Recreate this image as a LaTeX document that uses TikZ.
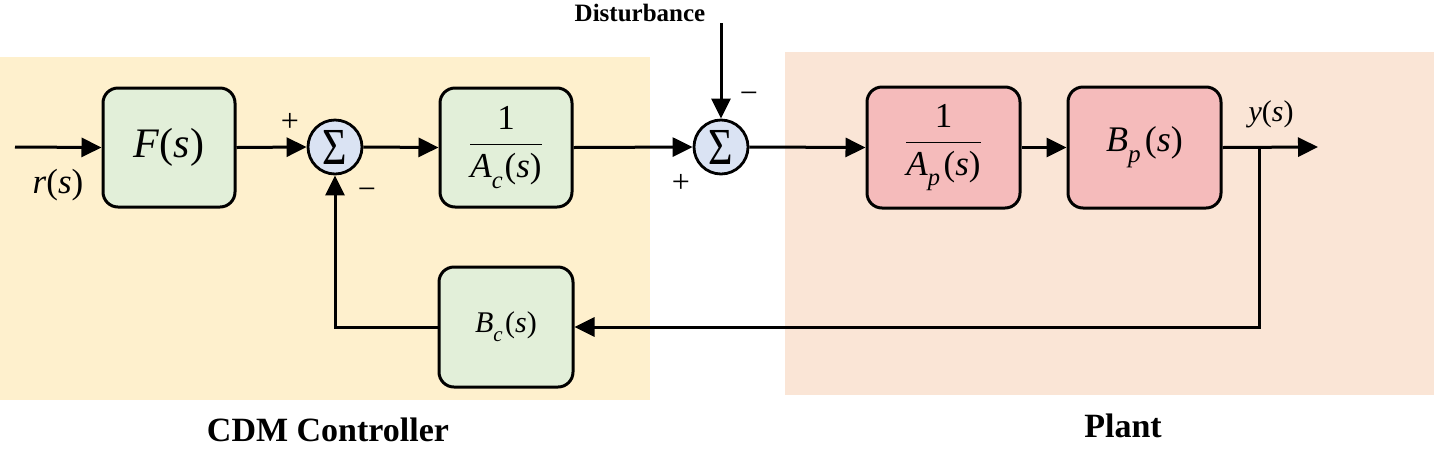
\documentclass[tikz,border=0pt]{standalone}
\usepackage{fontspec}
\usepackage{graphicx}
\setmainfont{Liberation Serif}
\usetikzlibrary{arrows.meta}
\definecolor{ctrlbg}{HTML}{FEF0CD}
\definecolor{plantbg}{HTML}{FAE5D6}
\definecolor{gbox}{HTML}{E2EFD9}
\definecolor{rbox}{HTML}{F5BBBB}
\definecolor{sumc}{HTML}{DAE3F3}
% text set at 10pt and scaled to the wanted size (#1 in pt)
\newcommand{\T}[2]{\scalebox{\fpeval{#1/10}}{\fontsize{10}{12}\selectfont #2}}
\newcommand{\sub}[1]{\raisebox{-0.3em}{\fontsize{7}{8}\selectfont\textit{#1}}}
\newcommand{\frc}[2]{$\displaystyle\frac{\mbox{#1}}{\mbox{#2}}$}
\begin{document}
\begin{tikzpicture}[x=1pt,y=-1pt,
  blk/.style={draw,line width=3pt,rounded corners=15pt,inner sep=0pt},
  gblk/.style={blk,fill=gbox},
  rblk/.style={blk,fill=rbox},
  sumnode/.style={draw,circle,line width=2.8pt,fill=sumc,minimum size=54pt,inner sep=0pt},
  wire/.style={line width=3pt},
  arr/.style={wire,-{Triangle[length=20pt,width=19pt]}},
  lbl/.style={inner sep=0pt}]
\useasboundingbox (0,0) rectangle (1434,451);
\fill[ctrlbg] (0,57) rectangle (650,400);
\fill[plantbg] (785,52) rectangle (1434,395);
% blocks
\node[gblk,minimum width=132pt,minimum height=119pt] (F) at (169,147.5)
  {\T{42}{\textit{F}(\textit{s})}};
\node[sumnode] (S1) at (335,147) {\scalebox{4.2}[5.2]{\fontsize{10}{12}\selectfont Σ}};
\node[gblk,minimum width=132pt,minimum height=119pt] (Ac) at (506,147.5)
  {\T{35}{\frc{1}{\textit{A}\sub{c}\kern0.05em(\textit{s})}}};
\node[sumnode] (S2) at (721,147) {\scalebox{4.2}[5.2]{\fontsize{10}{12}\selectfont Σ}};
\node[rblk,minimum width=153pt,minimum height=121pt] (Ap) at (943.5,147.5)
  {\T{35}{\frc{1}{\textit{A}\sub{p}\kern0.1em(\textit{s})}}};
\node[rblk,minimum width=153pt,minimum height=121pt] (Bp) at (1144.5,147.5)
  {\T{36}{\textit{B}\sub{p}\kern0.12em(\textit{s})}};
\node[gblk,minimum width=134pt,minimum height=120pt] (Bc) at (506,327)
  {\T{30}{\textit{B}\sub{c}\kern0.08em(\textit{s})}};
% coordinates
\coordinate (in) at (15,147);
\coordinate (out) at (1318,147);
\coordinate (br) at (1259,147);
\coordinate (dist) at (721,23);
% connectors
\draw[arr] (in) -- (F.west);
\draw[arr] (F.east) -- (S1.west);
\draw[arr] (S1.east) -- (Ac.west);
\draw[arr] (Ac.east) -- (S2.west);
\draw[arr] (S2.east) -- (Ap.west);
\draw[arr] (Ap.east) -- (Bp.west);
\draw[arr] (Bp.east) -- (out);
\draw[arr] (br) |- (Bc.east);
\draw[arr] (Bc.west) -| (S1.south);
\draw[arr] (dist) -- (S2.north);
% labels
\node[lbl] (rl) at (58,185) {\T{35}{\textit{r}(\textit{s})}};
\node[lbl] (yl) at (1271,114) {\T{30}{\textit{y}(\textit{s})}};
\node[lbl] (p1) at (290,122) {\T{32}{+}};
\node[lbl] (m1) at (367,194) {\T{32}{−}};
\node[lbl] (m2) at (749,98) {\T{32}{−}};
\node[lbl] (p2) at (681,183) {\T{32}{+}};
\node[lbl] (dl) at (640,13) {\T{25}{\bfseries Disturbance}};
\node[lbl] (cl) at (328,430) {\T{34}{\bfseries CDM Controller}};
\node[lbl] (pl) at (1123,426) {\T{34}{\bfseries Plant}};
\end{tikzpicture}
\end{document}
